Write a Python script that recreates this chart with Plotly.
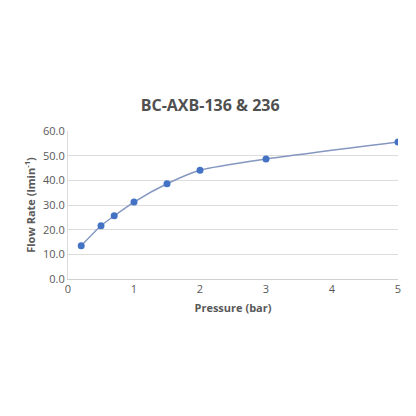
import plotly.graph_objects as go

pressure_bar = [0.2, 0.5, 0.7, 1.0, 1.5, 2.0, 3.0, 5.0]
flow_rate = [13.5, 21.6, 25.6, 31.2, 38.6, 44.1, 48.6, 55.5]
y_ticks = [0, 10, 20, 30, 40, 50, 60]
x_ticks = [0, 1, 2, 3, 4, 5]

fig = go.Figure(data=[
    go.Scatter(
        x=pressure_bar,
        y=flow_rate,
        mode='lines+markers',
        line=dict(color='#8497c0', width=1.5, shape='spline', smoothing=0.6),
        marker=dict(size=7, color='#4472c4')
    )
])

# page body adds an 8px offset, so margins are shifted to compensate
fig.update_layout(
    width=416,
    height=416,
    margin=dict(l=60, r=26, t=123, b=145),
    plot_bgcolor='white',
    paper_bgcolor='white',
    showlegend=False,
    font=dict(family='Open Sans', color='#595959'),
    title=dict(
        text='<b>BC-AXB-136 & 236</b>',
        font=dict(size=16, color='#505050'),
        x=0.486,
        xanchor='center',
        y=0.767,
        yanchor='middle'
    ),
    xaxis=dict(
        range=[0, 5],
        tickvals=x_ticks,
        showgrid=False,
        zeroline=False,
        showline=True,
        linecolor='#d0d0d0',
        linewidth=1,
        tickfont=dict(size=11, color='#595959'),
        title=dict(text='<b>Pressure (bar)</b>', font=dict(size=11, color='#595959'), standoff=9)
    ),
    yaxis=dict(
        range=[0, 60],
        tickvals=y_ticks,
        tickformat='.1f',
        showgrid=True,
        gridcolor='#dcdcdc',
        zeroline=False,
        showline=True,
        linecolor='#dcdcdc',
        linewidth=1,
        tickfont=dict(size=11, color='#595959'),
        title=dict(text='<b>Flow Rate (lmin<sup>-1</sup>)</b>', font=dict(size=11, color='#595959'), standoff=5)
    )
)

fig.write_html("out.html")
